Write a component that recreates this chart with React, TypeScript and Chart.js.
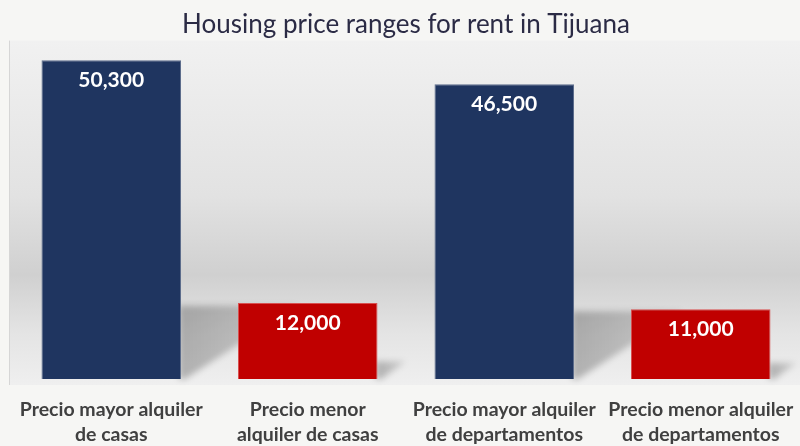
import React, { useEffect, useRef } from "react";
import { Chart, registerables } from "chart.js";

Chart.register(...registerables);

const categories: string[][] = [
  ["Precio mayor alquiler", "de casas"],
  ["Precio menor", "alquiler de casas"],
  ["Precio mayor alquiler", "de departamentos"],
  ["Precio menor alquiler", "de departamentos"],
];
const values: number[] = [50300, 12000, 46500, 11000];
const barColors: string[] = ["#1f3560", "#c00000", "#1f3560", "#c00000"];
const borderColors: string[] = ["#5d6d8c", "#d85050", "#5d6d8c", "#d85050"];
const titleText = "Housing price ranges for rent in Tijuana";

const bgPlugin = {
  id: "bgPlugin",
  beforeDraw(chart: any) {
    const { ctx, width, height, chartArea } = chart;
    ctx.save();
    ctx.fillStyle = "#f6f6f4";
    ctx.fillRect(0, 0, width, height);
    const top = chartArea.top;
    const bottom = chartArea.bottom + 6;
    const g = ctx.createLinearGradient(0, top, 0, bottom);
    g.addColorStop(0, "#f1f1f1");
    g.addColorStop(0.45, "#e2e2e2");
    g.addColorStop(0.68, "#d0d0d0");
    g.addColorStop(0.85, "#e4e4e4");
    g.addColorStop(1, "#efefef");
    ctx.fillStyle = g;
    ctx.fillRect(9, top, width - 9, bottom - top);
    ctx.fillStyle = "#d6d6d6";
    ctx.fillRect(9, top, 1, bottom - top);
    ctx.restore();
  },
  beforeDatasetsDraw(chart: any) {
    const { ctx } = chart;
    const meta = chart.getDatasetMeta(0);
    ctx.save();
    ctx.filter = "blur(3px)";
    meta.data.forEach((bar: any) => {
      const R = bar.x + bar.width / 2;
      const B = bar.base;
      const h = (B - bar.y) * 0.23;
      const w = h * 1.6;
      const g = ctx.createLinearGradient(R, 0, R + w, 0);
      g.addColorStop(0, "rgba(0,0,0,0.25)");
      g.addColorStop(1, "rgba(0,0,0,0.12)");
      ctx.fillStyle = g;
      ctx.beginPath();
      ctx.moveTo(R - 2, B);
      ctx.lineTo(R - 2, B - h);
      ctx.lineTo(R + w, B - h);
      ctx.lineTo(R + 4, B);
      ctx.closePath();
      ctx.fill();
    });
    ctx.restore();
  },
};

const labelPlugin = {
  id: "labelPlugin",
  afterDatasetsDraw(chart: any) {
    const { ctx } = chart;
    const meta = chart.getDatasetMeta(0);
    ctx.save();
    ctx.fillStyle = "#ffffff";
    ctx.font = "bold 21px Lato";
    ctx.textAlign = "center";
    ctx.textBaseline = "middle";
    meta.data.forEach((bar: any, i: number) => {
      ctx.fillText(values[i].toLocaleString("en-US"), bar.x, bar.y + 20);
    });
    ctx.restore();
  },
};

export default function App() {
  const ref = useRef<HTMLCanvasElement | null>(null);
  useEffect(() => {
    document.body.style.margin = "0";
    const chart = new Chart(ref.current as HTMLCanvasElement, {
      type: "bar",
      data: {
        labels: categories,
        datasets: [
          {
            data: values,
            backgroundColor: barColors,
            borderColor: borderColors,
            borderWidth: 1,
            categoryPercentage: 1,
            barPercentage: 0.71,
          },
        ],
      },
      options: {
        animation: false,
        responsive: false,
        layout: { padding: { left: 13, right: 1, top: 0, bottom: 0 } },
        plugins: {
          legend: { display: false },
          tooltip: { enabled: false },
          title: {
            display: true,
            text: titleText,
            color: "#2b2b45",
            font: { family: "Lato", size: 26, weight: "normal", lineHeight: 1.2 },
            padding: { top: 9.4, bottom: 0 },
          },
        },
        scales: {
          x: {
            grid: { display: false, drawTicks: false },
            border: { display: false },
            afterFit: (s: any) => {
              s.height = 67;
              s.paddingLeft = 0;
              s.paddingRight = 0;
            },
            ticks: {
              color: "#404040",
              font: { family: "Lato", size: 19.5, weight: "bold", lineHeight: 1.282 },
              padding: 18,
              maxRotation: 0,
              minRotation: 0,
              autoSkip: false,
            },
          },
          y: {
            display: false,
            min: 0,
            max: 53400,
          },
        },
      },
      plugins: [bgPlugin, labelPlugin],
    });
    return () => chart.destroy();
  }, []);
  return <canvas ref={ref} width={800} height={446} style={{ display: "block" }} />;
}
